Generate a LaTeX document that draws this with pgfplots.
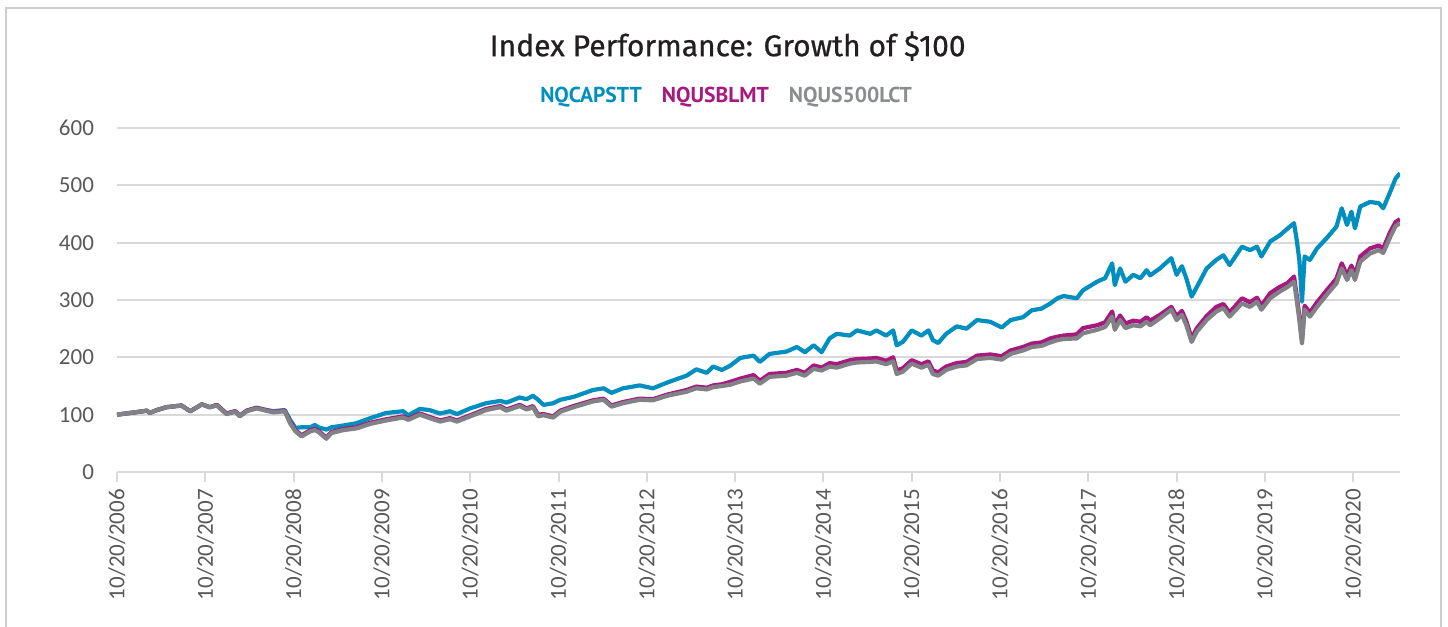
\documentclass[border=0pt]{standalone}
\usepackage{pgfplots}
\usepackage{pgfplotstable}
\pgfplotsset{compat=1.18}
\usepackage{fontspec}
\setmainfont{PT Sans}
\newfontfamily\tickfont{Carlito}
\newfontface\titlefont{Fira Sans}[FakeBold=0.7]

\definecolor{cblue}{RGB}{0,143,190}
\definecolor{cmag}{RGB}{166,25,126}
\definecolor{cgray}{RGB}{128,130,133}
\definecolor{lgray}{RGB}{138,141,144}
\definecolor{gridgray}{RGB}{217,217,217}
\definecolor{framegray}{RGB}{205,205,205}
\definecolor{tickgray}{RGB}{89,89,89}
\definecolor{titlegray}{RGB}{35,31,32}

% t = years since 10/20/2006, b = NQCAPSTT, m = NQUSBLMT, g = NQUS500LCT
\pgfplotstableread{
t b m g
0.00 100 100 100
0.10 102 102 102
0.20 104 104 104
0.34 107 107 107
0.37 103 103 103
0.45 108 108 108
0.56 113 113 113
0.73 116 116 116
0.83 106 106 106
0.96 118 118 118
1.05 113 113 113
1.13 117 117 116
1.24 102 102 101
1.34 106 106 105
1.39 98 98 97
1.47 107 107 106
1.58 112 112 111
1.66 109 109 108
1.77 106 105 104
1.90 108 107 106
1.96 91 87 85
2.02 77 73 71
2.09 78 64 62
2.19 78 73 71
2.24 82 75 73
2.28 78 72 70
2.37 74 60 58
2.43 78 70 68
2.56 81 75 73
2.71 85 78 76
2.87 94 86 84
3.05 103 92 90
3.24 106 97 95
3.30 99 93 91
3.43 110 102 100
3.54 108 96 94
3.66 102 90 88
3.77 106 94 92
3.85 101 90 88
4.00 111 99 97
4.18 120 110 108
4.34 124 115 113
4.41 121 109 107
4.56 130 117 115
4.64 127 111 109
4.71 133 115 113
4.77 126 100 97
4.83 117 101 99
4.94 120 97 95
5.02 126 107 105
5.17 131 115 113
5.39 143 125 123
5.51 146 128 126
5.60 138 116 114
5.73 146 122 120
5.92 151 128 126
6.07 146 127 125
6.23 156 135 133
6.45 168 143 140
6.56 179 149 146
6.68 173 147 144
6.75 184 151 148
6.85 178 153 150
6.94 185 157 152
7.06 199 163 158
7.21 203 169 163
7.28 192 159 154
7.39 206 171 166
7.58 210 173 168
7.70 218 178 173
7.79 209 173 168
7.89 221 186 180
7.98 209 182 177
8.07 233 190 184
8.15 241 188 182
8.30 238 195 189
8.38 247 197 191
8.53 241 198 192
8.60 247 199 193
8.71 238 194 188
8.79 247 200 193
8.83 221 177 171
8.90 227 181 175
9.00 247 195 189
9.11 238 188 182
9.19 247 193 187
9.24 230 177 171
9.30 225 174 168
9.39 241 184 178
9.51 254 190 184
9.62 250 192 186
9.74 265 203 197
9.89 262 205 199
10.02 252 202 196
10.12 265 212 206
10.26 270 218 212
10.36 282 224 218
10.47 285 226 220
10.57 294 233 226
10.65 303 236 230
10.72 307 238 232
10.87 303 240 233
10.94 317 251 242
11.10 332 256 248
11.19 338 261 253
11.27 364 280 271
11.30 326 256 248
11.36 355 273 265
11.42 332 259 251
11.51 344 264 256
11.59 338 262 254
11.66 352 270 262
11.70 343 264 256
11.81 355 274 268
11.94 373 288 283
12.00 344 272 265
12.06 359 281 274
12.11 338 263 256
12.17 306 233 227
12.23 323 251 245
12.34 355 272 265
12.45 370 288 280
12.53 378 293 286
12.60 361 278 271
12.74 393 303 294
12.83 387 296 288
12.91 393 304 297
12.96 376 290 283
13.06 402 312 303
13.17 413 323 315
13.26 425 330 323
13.33 434 341 332
13.36 405 308 300
13.39 370 272 265
13.42 297 230 224
13.45 376 290 283
13.51 370 278 271
13.59 390 296 288
13.70 408 317 309
13.81 428 337 329
13.87 460 364 355
13.93 431 343 335
13.98 454 360 352
14.02 425 343 335
14.08 463 376 367
14.19 471 390 381
14.29 469 395 387
14.34 460 390 382
14.42 489 419 410
14.48 512 436 429
14.53 521 441 434
}\perf

\begin{document}
\begin{tikzpicture}
\useasboundingbox (-58.5pt,-77.5pt) rectangle (665.5pt,236pt);
\begin{axis}[
  at={(0,0)}, anchor=south west,
  scale only axis, width=641.5pt, height=172pt,
  xmin=0, xmax=14.53, ymin=0, ymax=600,
  ytick={0,100,...,600},
  xtick={0,...,14},
  xticklabels={10/20/2006,10/20/2007,10/20/2008,10/20/2009,10/20/2010,10/20/2011,10/20/2012,10/20/2013,10/20/2014,10/20/2015,10/20/2016,10/20/2017,10/20/2018,10/20/2019,10/20/2020},
  /pgf/number format/assume math mode=true,
  tick label style={font=\tickfont\fontsize{11.5}{12}\selectfont, text=tickgray},
  x tick label style={rotate=90, anchor=east},
  y tick label style={xshift=-3pt},
  ymajorgrids, grid style={line width=1pt, gridgray},
  axis x line*=bottom, axis y line*=left,
  x axis line style={-, line width=1pt, gridgray},
  y axis line style={draw=none},
  xtick pos=bottom, tick align=outside, major tick length=5pt,
  xtick style={line width=1pt, gridgray},
  ytick style={draw=none},
  every axis title shift=0pt,
  title={Index Performance: Growth of \$100},
  title style={at={(0.476,1.238)}, anchor=center, font=\titlefont\fontsize{15}{18}\selectfont, text=titlegray},
  legend columns=3,
  legend image code/.code={},
  legend style={draw=none, fill=none, at={(0.4747,1.093)}, anchor=center,
    font=\bfseries\fontsize{10.8}{12}\selectfont,
    /tikz/every even column/.append style={column sep=6pt}},
  line join=round,
]
\addplot[cblue, line width=2.1pt] table[x=t, y=b] {\perf};
\addlegendentry{\textcolor{cblue}{NQCAPSTT}}
\addplot[cmag, line width=2.1pt] table[x=t, y=m] {\perf};
\addlegendentry{\textcolor{cmag}{NQUSBLMT}}
\addplot[cgray, line width=2.1pt] table[x=t, y=g] {\perf};
\addlegendentry{\textcolor{lgray}{NQUS500LCT}}
\end{axis}
\draw[framegray, line width=1pt] (-55.5pt,-100pt) -- (-55.5pt,232pt) -- (662pt,232pt) -- (662pt,-100pt);
\end{tikzpicture}
\end{document}
